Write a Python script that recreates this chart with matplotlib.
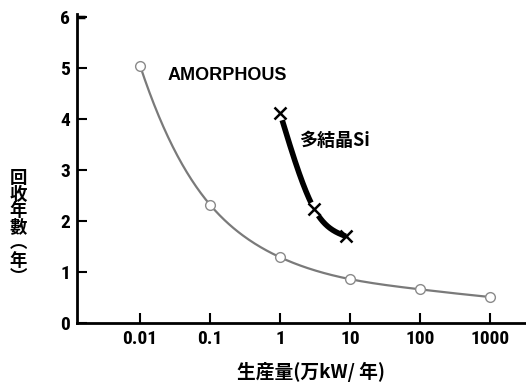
import numpy as np
import matplotlib
matplotlib.use("Agg")
import matplotlib.pyplot as plt
from matplotlib.ticker import FixedLocator, NullLocator

# data
x_ticks = [0.01, 0.1, 1, 10, 100, 1000]
x_tick_labels = ["0.01", "0.1", "1", "10", "100", "1000"]
y_ticks = [0, 1, 2, 3, 4, 5, 6]

amorphous_x = [0.01, 0.1, 1, 10, 100, 1000]
amorphous_y = [5.05, 2.32, 1.29, 0.86, 0.66, 0.51]

poly_si_x = [1.0, 3.1, 8.7]
poly_si_y = [4.12, 2.23, 1.70]

plt.rcParams['font.family'] = ['Roboto Condensed', 'Liberation Sans Narrow', 'Liberation Sans',
                               'Noto Sans CJK JP']
cjk = ['Noto Sans CJK JP', 'DejaVu Sans']


def natural_spline(xs, ys, xnew):
    xs = np.asarray(xs, float)
    ys = np.asarray(ys, float)
    n = len(xs)
    h = np.diff(xs)
    A = np.zeros((n, n))
    b = np.zeros(n)
    A[0, 0] = A[-1, -1] = 1
    for i in range(1, n - 1):
        A[i, i - 1] = h[i - 1]
        A[i, i] = 2 * (h[i - 1] + h[i])
        A[i, i + 1] = h[i]
        b[i] = 6 * ((ys[i + 1] - ys[i]) / h[i] - (ys[i] - ys[i - 1]) / h[i - 1])
    M = np.linalg.solve(A, b)
    out = np.empty_like(xnew)
    for k, xv in enumerate(xnew):
        i = min(max(np.searchsorted(xs, xv) - 1, 0), n - 2)
        t0 = xs[i + 1] - xv
        t1 = xv - xs[i]
        out[k] = (M[i] * t0 ** 3 + M[i + 1] * t1 ** 3) / (6 * h[i]) \
            + (ys[i] / h[i] - M[i] * h[i] / 6) * t0 \
            + (ys[i + 1] / h[i] - M[i + 1] * h[i] / 6) * t1
    return out


fig = plt.figure(figsize=(5.26, 3.9), dpi=100)
ax = fig.add_axes([77 / 526, 67 / 390, 449 / 526, 309 / 390])
ax.set_xscale('log')
ax.set_xlim(10 ** -2.9, 10 ** 3.514)
ax.set_ylim(0, 6.06)

# amorphous curve: smooth through the points in log space
lx = np.log10(amorphous_x)
xx = np.linspace(lx[0], lx[-1], 300)
yy = np.exp(natural_spline(lx, np.log(amorphous_y), xx))
ax.plot(10 ** xx, yy, color='#7a7a7a', lw=1.6, zorder=2)
ax.plot(amorphous_x, amorphous_y, 'o', ms=7, mfc='white', mec='#8a8a8a', mew=1.0, zorder=3)

# poly-Si curve with small gaps next to the markers
sx = np.log10(poly_si_x)
xs = np.linspace(sx[0], sx[-1], 300)
ys = natural_spline(sx, poly_si_y, xs)
keep = np.ones_like(xs, bool)
for px, py in zip(sx[:2], poly_si_y[:2]):
    keep &= np.hypot((xs - px) * 70, (ys - py) * 51) > 7
ys_masked = np.where(keep, ys, np.nan)
ax.plot(10 ** xs, ys_masked, color='black', lw=4, solid_capstyle='butt', zorder=2)
ax.plot(poly_si_x, poly_si_y, 'x', ms=8, mec='black', mew=1.8, zorder=3)

ax.text(0.025, 4.85, 'AMORPHOUS', fontsize=13, fontweight='bold', ha='left', va='center',
        family=['Liberation Sans', 'DejaVu Sans'])
ax.text(1.85, 3.58, '多結晶Si', fontsize=13, fontweight='bold', ha='left', va='center',
        family=cjk)

for s in ['top', 'right']:
    ax.spines[s].set_visible(False)
ax.spines['left'].set_linewidth(2)
ax.spines['bottom'].set_linewidth(2)

ax.xaxis.set_major_locator(FixedLocator(x_ticks))
ax.xaxis.set_minor_locator(NullLocator())
ax.set_xticklabels(x_tick_labels)
ax.set_yticks(y_ticks)
ax.tick_params(direction='in', length=7, width=1.5, labelsize=14, pad=5)
for lab in ax.get_xticklabels() + ax.get_yticklabels():
    lab.set_fontweight('bold')

# thicker top tick
ax.plot([10 ** -2.9, 10 ** -2.9 * 10 ** 0.12], [6, 6], color='black', lw=2.5,
        clip_on=False, solid_capstyle='butt')

fig.text(311 / 526, 1 - 372 / 390, '生産量(万kW/ 年)', fontsize=13.5, fontweight='bold',
         ha='center', va='center', family=cjk)

ylabel_chars = ['回', '收', '年', '數', '︵', '年', '︶']
for i, ch in enumerate(ylabel_chars):
    fig.text(18 / 526, 1 - (178 + i * 16.5) / 390, ch, fontsize=12.5, fontweight='bold',
             ha='center', va='center', family=cjk)

fig.savefig('out.png', dpi=100)
